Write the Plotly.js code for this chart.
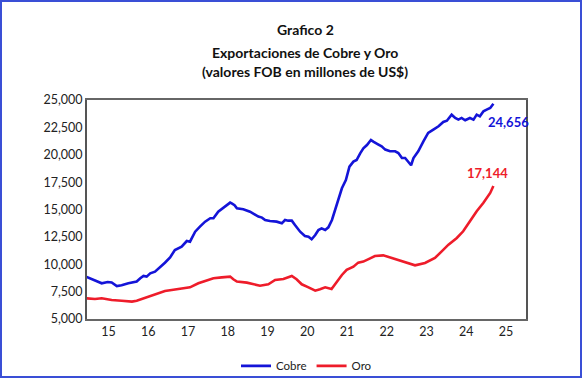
<!DOCTYPE html>
<html>
<head>
<meta charset="utf-8">
<script src="https://cdn.plot.ly/plotly-3.0.1.min.js"></script>
<style>
  html, body { margin: 0; padding: 0; background: #fff; }
  #wrap { position: relative; width: 582px; height: 378px; }
  #chart { width: 582px; height: 378px; }
  #frame { position: absolute; left: 0; top: 0; width: 582px; height: 378px; box-sizing: border-box;
           border: 2px solid #3a4fd6; pointer-events: none; }
</style>
</head>
<body>
<div id="wrap"><div id="chart"></div><div id="frame"></div></div>
<script>
// Tick labels (years, 2-digit)
const tickYears = [15, 16, 17, 18, 19, 20, 21, 22, 23, 24, 25];
const tickLabels = ["15", "16", "17", "18", "19", "20", "21", "22", "23", "24", "25"];

// Cobre (millones US$, 12-month total); x = year (2-digit, fractional)
const cobreX = [14.45, 14.66, 14.83, 14.98, 15.08, 15.21, 15.33, 15.50, 15.71, 15.80, 15.88, 15.96, 16.05, 16.17,
  16.30, 16.42, 16.55, 16.67, 16.84, 16.97, 17.05, 17.18, 17.30, 17.43, 17.56, 17.64, 17.76, 17.93, 18.06,
  18.10, 18.17, 18.23, 18.39, 18.56, 18.69, 18.77, 18.86, 18.94, 19.06, 19.23, 19.36, 19.44, 19.52, 19.61,
  19.69, 19.82, 19.94, 20.03, 20.11, 20.20, 20.28, 20.36, 20.45, 20.53, 20.62, 20.70, 20.78, 20.87, 20.97,
  21.06, 21.16, 21.24, 21.33, 21.41, 21.50, 21.60, 21.66, 21.75, 21.79, 21.87, 21.96, 22.08, 22.21, 22.29,
  22.38, 22.46, 22.54, 22.61, 22.67, 22.79, 22.92, 23.04, 23.17, 23.30, 23.42, 23.51, 23.63, 23.72, 23.80,
  23.88, 23.97, 24.09, 24.18, 24.26, 24.34, 24.43, 24.51, 24.60, 24.68];
const cobre = [8850, 8560, 8260, 8380, 8330, 8010, 8080, 8260, 8420, 8720, 8930, 8870, 9170, 9320,
  9720, 10140, 10630, 11300, 11600, 12120, 12060, 12970, 13430, 13890, 14200, 14200, 14800, 15260, 15630,
  15560, 15400, 15110, 15020, 14800, 14500, 14350, 14260, 14040, 13950, 13890, 13740, 14040, 13980, 13980,
  13580, 12970, 12580, 12520, 12280, 12670, 13130, 13280, 13130, 13370, 14040, 14950, 15870, 16940, 17690,
  18910, 19370, 19520, 20130, 20590, 20890, 21350, 21200, 21050, 20930, 20770, 20470, 20320, 20320, 20160,
  19700, 19700, 19320, 19040, 19700, 20320, 21230, 21990, 22290, 22600, 22990, 23110, 23660, 23360, 23210,
  23360, 23150, 23360, 23210, 23660, 23510, 23970, 24120, 24270, 24656];

// Oro (millones US$, 12-month total)
const oroX = [14.45, 14.66, 14.83, 15.08, 15.33, 15.59, 15.71, 15.88, 16.05, 16.21, 16.42, 16.59, 16.84, 17.05,
  17.26, 17.43, 17.64, 17.85, 18.06, 18.14, 18.23, 18.48, 18.81, 19.02, 19.19, 19.40, 19.61, 19.73, 19.86,
  20.03, 20.20, 20.32, 20.45, 20.61, 20.74, 20.87, 20.99, 21.16, 21.28, 21.41, 21.58, 21.70, 21.91, 22.12,
  22.38, 22.63, 22.71, 22.96, 23.21, 23.38, 23.55, 23.76, 23.92, 24.09, 24.26, 24.43, 24.60, 24.68];
const oro = [6890, 6830, 6890, 6740, 6670, 6590, 6670, 6890, 7130, 7340, 7560, 7650, 7800, 7890,
  8260, 8470, 8720, 8800, 8870, 8630, 8420, 8320, 8040, 8170, 8560, 8650, 8930, 8630, 8170,
  7890, 7590, 7720, 7890, 7740, 8420, 9020, 9480, 9780, 10150, 10240, 10540, 10750, 10810, 10570,
  10270, 9960, 9900, 10120, 10570, 11180, 11790, 12400, 13010, 13930, 14840, 15610, 16510, 17144];

const yTicks = [5000, 7500, 10000, 12500, 15000, 17500, 20000, 22500, 25000];

const titleLines = ["Grafico 2", "Exportaciones de Cobre y Oro", "(valores FOB en millones de US$)"];

const BLUE = "#1414d8";
const RED = "#ee1c2a";
const FONT = "Lato, 'Open Sans', sans-serif";

const fmt = v => v.toLocaleString("en-US");

const traces = [
  { x: cobreX, y: cobre, type: "scatter", mode: "lines", name: "Cobre",
    line: { color: BLUE, width: 2.6 } },
  { x: oroX, y: oro, type: "scatter", mode: "lines", name: "Oro",
    line: { color: RED, width: 2.6 } }
];

const lastC = cobre[cobre.length - 1], lastO = oro[oro.length - 1];

const titleY = [1.32, 1.219, 1.128];
const titleAnns = titleLines.map((t, i) => ({
  xref: "paper", yref: "paper", x: 0.497, y: titleY[i], xanchor: "center", yanchor: "middle",
  text: "<b>" + t + "</b>", showarrow: false, font: { family: FONT, size: 14, color: "#111" }
}));

const layout = {
  width: 582, height: 378,
  margin: { l: 87, r: 56, t: 100, b: 59, autoexpand: false },
  paper_bgcolor: "#fff", plot_bgcolor: "#fff",
  font: { family: FONT, size: 12, color: "#222" },
  xaxis: {
    range: [14.46, 25.5], tickvals: tickYears, ticktext: tickLabels,
    showgrid: false, zeroline: false, ticks: "",
    showline: true, linecolor: "#666", linewidth: 2, mirror: true,
    tickfont: { family: FONT, size: 12.5, color: "#222" }
  },
  yaxis: {
    range: [5000, 25000], tickvals: yTicks, ticktext: yTicks.map(fmt),
    showgrid: false, zeroline: false, ticks: "",
    showline: true, linecolor: "#555", linewidth: 2, mirror: true,
    tickfont: { family: FONT, size: 12.5, color: "#222" }
  },
  showlegend: true,
  legend: { orientation: "h", xref: "paper", x: 0.5, xanchor: "center",
    yref: "container", y: 0.032, yanchor: "middle",
    font: { family: FONT, size: 11.5, color: "#222" } },
  annotations: titleAnns.concat([
    { x: cobreX[cobreX.length - 1], y: lastC, text: "<b>" + fmt(lastC) + "</b>", showarrow: false,
      xanchor: "left", yanchor: "middle", xshift: -7, yshift: -18,
      font: { family: FONT, size: 13, color: BLUE } },
    { x: oroX[oroX.length - 1], y: lastO, text: "<b>" + fmt(lastO) + "</b>", showarrow: false,
      xanchor: "center", yanchor: "middle", xshift: -6, yshift: 13,
      font: { family: FONT, size: 13, color: RED } }
  ])
};

Plotly.newPlot("chart", traces, layout, { displayModeBar: false, staticPlot: true });
</script>
</body>
</html>
